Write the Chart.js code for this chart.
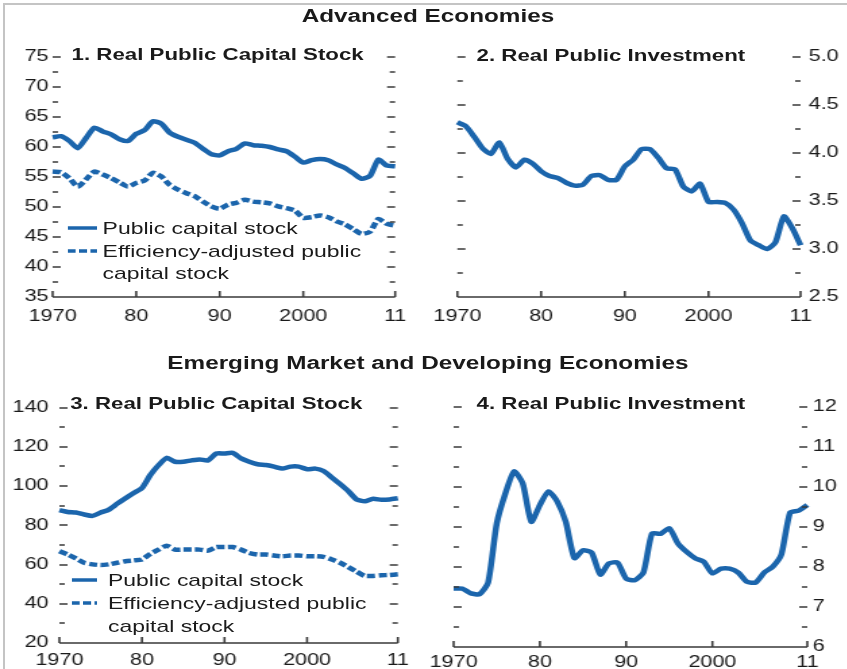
<!DOCTYPE html>
<html lang="en">
<head>
  <meta charset="UTF-8">
  <title>Public Capital Stock and Public Investment</title>
  <script src="https://cdn.jsdelivr.net/npm/chart.js"></script>
  <style>
    body { margin: 0; background: #fff; }
    #pagina { position: relative; width: 847px; height: 669px; overflow: hidden; background: #fff; }
    #moldura { position: absolute; left: 3px; top: 3px; width: 860px; height: 690px;
      border-left: 2px solid #c4c4c4; border-top: 2px solid #c4c4c4; }
    /* tudo e' desenhado numa largura menor e esticado na horizontal */
    #esticado { position: absolute; left: 0; top: 0; width: 628px; height: 669px;
      transform: scaleX(1.35); transform-origin: 0 0;
      font-family: 'Liberation Sans', Arial, sans-serif; color: #1a1a1a; }
    canvas { position: absolute; }
    .titulo { position: absolute; left: 0; width: 634px; text-align: center; font-weight: bold;
      font-size: 18px; line-height: 18px; }
    .subtitulo { position: absolute; font-weight: bold; font-size: 16.5px; line-height: 16.5px; white-space: nowrap; }
    .legenda { position: absolute; font-size: 17px; line-height: 17px; white-space: nowrap; }
    .amostra { position: absolute; }
  </style>
</head>
<body>
  <div id="pagina">
    <div id="moldura"></div>
    <div id="esticado">
      <div class="titulo" style="top: 7px;">Advanced Economies</div>
      <div class="titulo" style="top: 354px;">Emerging Market and Developing Economies</div>

      <canvas id="grafico1" width="311" height="290" style="left: 0px; top: 40px; width: 311px; height: 290px;"></canvas>
      <canvas id="grafico2" width="316" height="290" style="left: 311px; top: 40px; width: 316px; height: 290px;"></canvas>
      <canvas id="grafico3" width="311" height="279" style="left: 0px; top: 390px; width: 311px; height: 279px;"></canvas>
      <canvas id="grafico4" width="316" height="279" style="left: 311px; top: 390px; width: 316px; height: 279px;"></canvas>

      <div class="subtitulo" style="left: 53px; top: 46px;">1. Real Public Capital Stock</div>
      <div class="subtitulo" style="left: 353px; top: 47px;">2. Real Public Investment</div>
      <div class="subtitulo" style="left: 52px; top: 395px;">3. Real Public Capital Stock</div>
      <div class="subtitulo" style="left: 353px; top: 395px;">4. Real Public Investment</div>

      <!-- legenda do painel 1 -->
      <svg class="amostra" style="left: 50px; top: 225px;" width="22" height="6"><line x1="0" y1="3" x2="22" y2="3" stroke="#1b65ac" stroke-width="3.5"/></svg>
      <div class="legenda" style="left: 76px; top: 220px;">Public capital stock</div>
      <svg class="amostra" style="left: 50px; top: 248px;" width="22" height="6"><line x1="0" y1="3" x2="22" y2="3" stroke="#1b65ac" stroke-width="3.5" stroke-dasharray="6 2.5"/></svg>
      <div class="legenda" style="left: 76px; top: 243px;">Efficiency-adjusted public</div>
      <div class="legenda" style="left: 76px; top: 265px;">capital stock</div>

      <!-- legenda do painel 3 -->
      <svg class="amostra" style="left: 53px; top: 577px;" width="19" height="6"><line x1="0" y1="3" x2="19" y2="3" stroke="#1b65ac" stroke-width="3.5"/></svg>
      <div class="legenda" style="left: 80px; top: 572px;">Public capital stock</div>
      <svg class="amostra" style="left: 53px; top: 600px;" width="19" height="6"><line x1="0" y1="3" x2="19" y2="3" stroke="#1b65ac" stroke-width="3.5" stroke-dasharray="6 2.5"/></svg>
      <div class="legenda" style="left: 80px; top: 595px;">Efficiency-adjusted public</div>
      <div class="legenda" style="left: 80px; top: 618px;">capital stock</div>
    </div>
  </div>

<script>
  const anos = [1970, 1971, 1972, 1973, 1974, 1975, 1976, 1977, 1978, 1979,
    1980, 1981, 1982, 1983, 1984, 1985, 1986, 1987, 1988, 1989,
    1990, 1991, 1992, 1993, 1994, 1995, 1996, 1997, 1998, 1999,
    2000, 2001, 2002, 2003, 2004, 2005, 2006, 2007, 2008, 2009, 2010, 2011];
  const ticksX = [1970, 1980, 1990, 2000, 2011];
  const rotulosX = ['1970', '80', '90', '2000', '11'];

  // 1. economias avancadas - estoque de capital publico
  const estoqueAvancadas = [61.6, 61.8, 61.0, 59.8, 61.5, 63.2, 62.6, 62.1, 61.3, 61.0,
    62.2, 62.8, 64.3, 63.9, 62.4, 61.7, 61.2, 60.7, 59.7, 58.8,
    58.6, 59.3, 59.7, 60.6, 60.3, 60.2, 60.0, 59.6, 59.3, 58.4,
    57.4, 57.8, 58.0, 57.8, 57.1, 56.5, 55.6, 54.7, 55.2, 57.9, 56.9, 56.8];
  const eficienciaAvancadas = [55.9, 55.8, 54.8, 53.4, 54.6, 55.9, 55.4, 54.8, 54.1, 53.4,
    54.0, 54.4, 55.7, 55.1, 53.7, 52.9, 52.3, 51.8, 50.9, 50.1,
    49.7, 50.4, 50.7, 51.2, 50.9, 50.8, 50.6, 50.1, 49.8, 49.4,
    48.2, 48.3, 48.6, 48.3, 47.6, 47.1, 46.3, 45.5, 45.9, 48.0, 47.2, 46.9];
  const rotulosY1 = ['35', '40', '45', '50', '55', '60', '65', '70', '75'];

  // 2. economias avancadas - investimento publico
  const investAvancadas = [4.32, 4.28, 4.17, 4.05, 3.99, 4.11, 3.94, 3.85, 3.93, 3.89,
    3.81, 3.76, 3.74, 3.69, 3.66, 3.67, 3.76, 3.77, 3.72, 3.72,
    3.86, 3.93, 4.04, 4.04, 3.95, 3.84, 3.83, 3.65, 3.60, 3.68,
    3.49, 3.49, 3.48, 3.41, 3.27, 3.09, 3.04, 3.00, 3.07, 3.34, 3.22, 3.04];
  const rotulosY2 = ['2.5', '3.0', '3.5', '4.0', '4.5', '5.0'];

  // 3. emergentes - estoque de capital publico
  const estoqueEmergentes = [87.7, 86.8, 86.5, 85.5, 84.8, 86.5, 88.0, 91.0, 93.8, 96.5,
    99.0, 105.6, 110.6, 114.4, 112.4, 112.4, 113.1, 113.6, 113.1, 116.6,
    116.6, 116.9, 114.1, 112.4, 111.1, 110.7, 109.9, 108.9, 109.9, 109.9,
    108.6, 108.9, 107.7, 104.4, 101.0, 97.4, 93.2, 92.2, 93.5, 93.0, 93.2, 93.8];
  const eficienciaEmergentes = [66.8, 65.1, 63.1, 60.9, 60.1, 59.7, 60.1, 60.9, 61.7, 62.1,
    62.6, 65.4, 67.6, 69.6, 67.6, 67.6, 67.6, 67.6, 67.1, 68.9,
    68.9, 68.9, 67.6, 65.9, 65.1, 65.1, 64.6, 64.2, 64.6, 64.6,
    64.2, 64.2, 63.9, 62.6, 60.9, 58.7, 56.4, 54.2, 54.2, 54.5, 54.7, 55.0];
  const rotulosY3 = ['20', '40', '60', '80', '100', '120', '140'];

  // 4. emergentes - investimento publico
  const investEmergentes = [7.46, 7.46, 7.34, 7.32, 7.61, 9.09, 9.84, 10.39, 10.10, 9.13,
    9.55, 9.89, 9.64, 9.13, 8.22, 8.42, 8.36, 7.81, 8.09, 8.11,
    7.71, 7.67, 7.86, 8.84, 8.83, 8.97, 8.59, 8.38, 8.22, 8.13,
    7.84, 7.96, 7.96, 7.86, 7.63, 7.61, 7.86, 8.01, 8.32, 9.36, 9.41, 9.55];
  const rotulosY4 = ['6', '7', '8', '9', '10', '11', '12'];

  const COR = '#1b65ac';

  // tracinhos para dentro nos dois lados + linha do eixo x com ticks para cima
  const marcas = {
    id: 'marcas',
    afterDraw(chart) {
      const { ctx, chartArea: a, scales } = chart;
      const x = scales.x;
      const y = scales.y;
      ctx.save();
      ctx.strokeStyle = '#3a3a3a';
      ctx.lineWidth = 1.6;
      ctx.beginPath();
      y.ticks.forEach(t => {
        const py = Math.round(y.getPixelForValue(t.value));
        if (py > a.bottom - 2) return;
        const len = t.label !== '' ? 6 : 4;
        ctx.moveTo(a.left, py);
        ctx.lineTo(a.left + len, py);
        ctx.moveTo(a.right - len, py);
        ctx.lineTo(a.right, py);
      });
      ctx.moveTo(a.left, Math.round(a.bottom));
      ctx.lineTo(a.right, Math.round(a.bottom));
      x.ticks.forEach(t => {
        const px = x.getPixelForValue(t.value);
        ctx.moveTo(px, a.bottom);
        ctx.lineTo(px, a.bottom - 6);
      });
      ctx.stroke();
      ctx.restore();
    }
  };

  function criarGrafico(id, series, eixo) {
    const ctx = document.getElementById(id).getContext('2d');
    return new Chart(ctx, {
      type: 'line',
      data: {
        datasets: series.map(s => ({
          data: anos.map((ano, i) => ({ x: ano, y: s.valores[i] })),
          borderColor: COR,
          borderWidth: 4.5,
          borderDash: s.tracejado ? [6, 2.5] : [],
          borderJoinStyle: 'round',
          pointRadius: 0,
          tension: 0.2,
          fill: false,
          clip: 10
        }))
      },
      options: {
        responsive: false,
        animation: false,
        events: [],
        layout: { padding: eixo.padding },
        plugins: { legend: { display: false }, tooltip: { enabled: false } },
        scales: {
          x: {
            type: 'linear',
            min: 1970,
            max: 2011,
            grid: { display: false, drawTicks: false },
            border: { display: false },
            afterBuildTicks: s => { s.ticks = ticksX.map(v => ({ value: v })); },
            afterFit: s => { s.height = eixo.alturaX; },
            ticks: {
              autoSkip: false,
              maxRotation: 0,
              padding: eixo.padX,
              color: '#1a1a1a',
              font: { family: 'Liberation Sans', size: 16 },
              callback: (v, i) => rotulosX[i]
            }
          },
          y: {
            position: eixo.lado,
            min: eixo.min,
            max: eixo.max,
            grid: { display: false, drawTicks: false },
            border: { display: false },
            afterFit: s => { s.width = eixo.larguraY; },
            ticks: {
              stepSize: eixo.passo,
              autoSkip: false,
              padding: eixo.padY,
              color: '#1a1a1a',
              font: { family: 'Liberation Sans', size: 16 },
              callback: v => eixo.rotulos.find(r => Number(r) === v) || ''
            }
          }
        }
      },
      plugins: [marcas]
    });
  }

  let grafico1 = criarGrafico('grafico1', [
    { valores: estoqueAvancadas },
    { valores: eficienciaAvancadas, tracejado: true }
  ], { lado: 'left', min: 35, max: 75, passo: 2.5, rotulos: rotulosY1, larguraY: 39, padY: 3,
       alturaX: 33, padX: 10, padding: { top: 17, right: 15 } });

  let grafico2 = criarGrafico('grafico2', [
    { valores: investAvancadas }
  ], { lado: 'right', min: 2.5, max: 5.0, passo: 0.25, rotulos: rotulosY2, larguraY: 34, padY: 6,
       alturaX: 33, padX: 10, padding: { top: 17, left: 25 } });

  let grafico3 = criarGrafico('grafico3', [
    { valores: estoqueEmergentes },
    { valores: eficienciaEmergentes, tracejado: true }
  ], { lado: 'left', min: 20, max: 140, passo: 10, rotulos: rotulosY3, larguraY: 44, padY: 8,
       alturaX: 26, padX: 8, padding: { top: 14, right: 13 } });

  let grafico4 = criarGrafico('grafico4', [
    { valores: investEmergentes }
  ], { lado: 'right', min: 6, max: 12, passo: 0.5, rotulos: rotulosY4, larguraY: 29, padY: 4,
       alturaX: 22, padX: 6, padding: { top: 17, left: 25 } });
</script>
</body>
</html>
